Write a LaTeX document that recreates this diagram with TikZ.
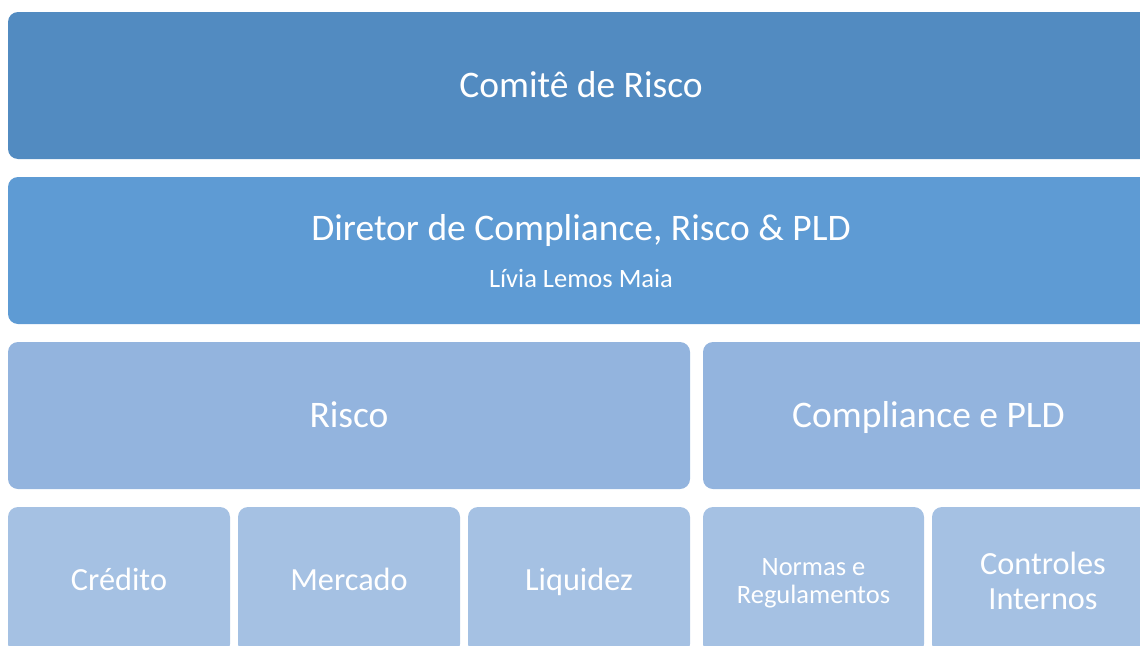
\documentclass[tikz,border=0pt]{standalone}
\usepackage{fontspec}
\setmainfont{Carlito}
\definecolor{cA}{HTML}{528BC1}
\definecolor{cB}{HTML}{5E9BD4}
\definecolor{cC}{HTML}{93B4DE}
\definecolor{cD}{HTML}{A5C1E3}
\begin{document}
\begin{tikzpicture}[x=1pt,y=-1pt,
  box/.style={draw=none, rounded corners=10pt, inner sep=0pt, text=white, align=center, minimum height=147pt},
  big/.style={font=\fontsize{37.5}{45}\selectfont, text height=31.6pt, text depth=7.5pt},
  mid/.style={font=\fontsize{32.3}{35}\selectfont, text height=27.3pt, text depth=6.5pt},
  small/.style={font=\fontsize{26.5}{28}\selectfont},
  two/.style={font=\fontsize{32.3}{35}\selectfont}]
\useasboundingbox (0,0) rectangle (1140,645);
\clip (0,0) rectangle (1140,645);
\node[box, big, fill=cA, minimum width=1146pt] (comite) at (581,85.5) {Comitê de Risco};
\node[box, fill=cB, minimum width=1146pt, font=\fontsize{37.5}{49}\selectfont, text depth=0pt] (diretor) at (581,250.5) {\raisebox{-2pt}{Diretor de Compliance, Risco \& PLD}\\{\fontsize{26.5}{49}\selectfont Lívia Lemos Maia}};
\node[box, big, fill=cC, minimum width=682pt] (risco) at (349,415.5) {Risco};
\node[box, big, fill=cC, minimum width=451pt] (compliance) at (928.5,415.5) {Compliance e PLD};
\node[box, mid, fill=cD, minimum width=222pt] (credito) at (119,580.5) {Crédito};
\node[box, mid, fill=cD, minimum width=222pt] (mercado) at (349,580.5) {Mercado};
\node[box, mid, fill=cD, minimum width=222pt] (liquidez) at (579,580.5) {Liquidez};
\node[box, small, fill=cD, minimum width=221pt] (normas) at (813.5,580.5) {\rule{0pt}{23pt}Normas e\\Regulamentos};
\node[box, two, fill=cD, minimum width=222pt] (controles) at (1043,580.5) {Controles\\Internos};
\end{tikzpicture}
\end{document}
